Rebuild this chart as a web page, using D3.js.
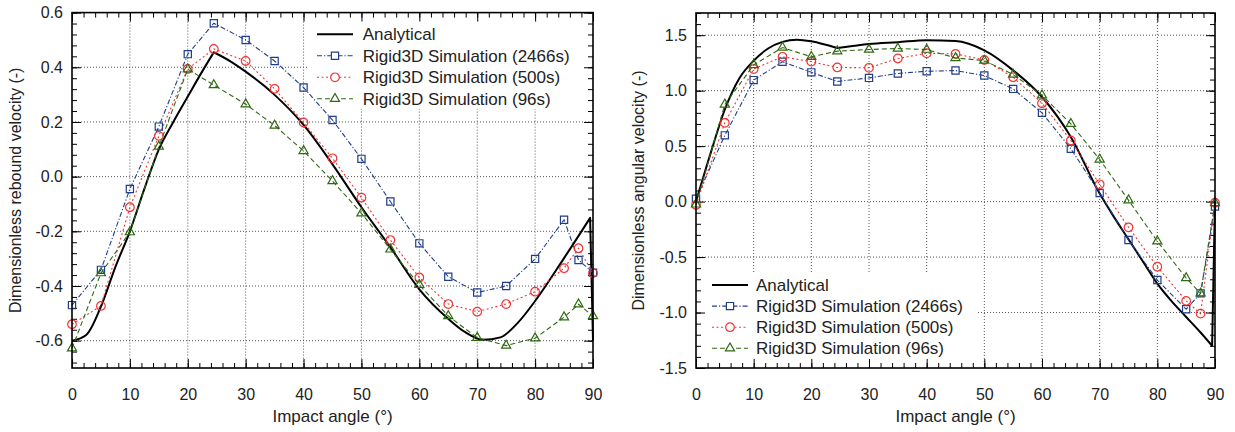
<!doctype html>
<html>
<head>
<meta charset="utf-8"/>
<title>Rebound and angular velocity</title>
<script src="https://d3js.org/d3.v7.min.js"></script>
<style>
body{margin:0;background:#fff;}
svg text{font-family:"Liberation Sans",Arial,sans-serif;font-size:16px;fill:#222;}
svg text.big{font-size:17px;}
</style>
</head>
<body>
<script>
// ---- data ----
var angles = [0,5,10,15,20,24.5,30,35,40,45,50,55,60,65,70,75,80,85,87.5,90];

var rebound2466 = [-0.470,-0.341,-0.045,0.183,0.448,0.561,0.500,0.423,0.326,0.207,0.065,-0.091,-0.244,-0.366,-0.424,-0.400,-0.301,-0.158,-0.305,-0.351];
var rebound500  = [-0.540,-0.473,-0.112,0.149,0.394,0.467,0.423,0.321,0.198,0.067,-0.077,-0.232,-0.369,-0.466,-0.494,-0.466,-0.421,-0.335,-0.262,-0.353];
var rebound96   = [-0.628,-0.353,-0.203,0.110,0.393,0.335,0.265,0.187,0.094,-0.016,-0.134,-0.266,-0.396,-0.510,-0.589,-0.618,-0.591,-0.514,-0.467,-0.510];

var angular2466 = [0.025,0.597,1.095,1.26,1.165,1.083,1.115,1.155,1.175,1.181,1.136,1.016,0.800,0.477,0.077,-0.346,-0.707,-0.970,-0.827,-0.045];
var angular500  = [-0.03,0.71,1.195,1.305,1.262,1.209,1.206,1.29,1.337,1.331,1.277,1.121,0.887,0.551,0.156,-0.232,-0.587,-0.895,-1.010,-0.01];
var angular96   = [-0.025,0.876,1.232,1.389,1.305,1.356,1.371,1.38,1.37,1.295,1.271,1.145,0.959,0.701,0.380,0.013,-0.358,-0.689,-0.827,-0.012];

// analytical curves (kinks at 24.5 and 89.5)
var reboundAnaAngles = [0,2.5,5,7.5,10,12.5,15,17.5,20,22.5,24.5,27.5,30,35,40,45,50,55,60,65,68,71,74,77,80,85,89.5,90];
var reboundAna       = [-0.600,-0.578,-0.475,-0.330,-0.200,-0.045,0.100,0.200,0.293,0.385,0.455,0.420,0.384,0.299,0.189,0.045,-0.112,-0.258,-0.412,-0.520,-0.570,-0.597,-0.588,-0.535,-0.455,-0.298,-0.151,-0.600];
var angularAnaAngles = [0,2.5,5,7.5,10,12.5,15,17.5,20,22.5,24.5,27.5,30,35,40,45,50,55,60,65,70,72.5,75,77.5,80,82.5,85,87.5,89.5,90];
var angularAna       = [0,0.43,0.83,1.11,1.27,1.38,1.44,1.46,1.445,1.414,1.385,1.405,1.42,1.437,1.455,1.447,1.363,1.183,0.943,0.583,0.072,-0.14,-0.34,-0.54,-0.74,-0.90,-1.04,-1.18,-1.30,0];
var kinks = [24.5, 89.5];

var xTicks = [0,10,20,30,40,50,60,70,80,90];
var reboundTicks = [-0.6,-0.4,-0.2,0,0.2,0.4,0.6];
var angularTicks = [-1.5,-1,-0.5,0,0.5,1,1.5];
var legendNames = ["Analytical","Rigid3D Simulation (2466s)","Rigid3D Simulation (500s)","Rigid3D Simulation (96s)"];

var svg = d3.select("body").append("svg")
  .attr("width",1235)
  .attr("height",432);

var styles = [
  {color:"#1f3d8a", dash:"5,2,1.2,2", sym:d3.symbolSquare,   size:52},
  {color:"#f03434", dash:"2,2.5",     sym:d3.symbolCircle,   size:58},
  {color:"#2f6a12", dash:"5,3",       sym:d3.symbolTriangle, size:36}
];

function fmt1(v){ return (Math.abs(v)<1e-9 ? 0 : v).toFixed(1); }

function panel(o)
{
  var g = svg.append("g");
  var x = d3.scaleLinear().domain([0,90]).range([o.left,o.right]);
  var y = d3.scaleLinear().domain(o.yDomain).range([o.bottom,o.top]);

  // grid
  g.selectAll(".gx").data(xTicks.filter(function(v){return v>0 && v<90;}))
    .enter().append("line")
    .attr("x1",function(d){return x(d);}).attr("x2",function(d){return x(d);})
    .attr("y1",o.top).attr("y2",o.bottom)
    .attr("stroke","#555").attr("stroke-width",1).attr("stroke-dasharray","1,2");
  g.selectAll(".gy").data(o.yTicks.filter(function(v){return v>o.yDomain[0]+1e-9 && v<o.yDomain[1]-1e-9;}))
    .enter().append("line")
    .attr("y1",function(d){return y(d);}).attr("y2",function(d){return y(d);})
    .attr("x1",o.left).attr("x2",o.right)
    .attr("stroke","#555").attr("stroke-width",1).attr("stroke-dasharray","1,2");

  // opaque key box
  g.append("rect").attr("x",o.key.x).attr("y",o.key.y).attr("width",o.key.w).attr("height",o.key.h).attr("fill","#fff");

  // axes: major + minor, mirrored
  var xMinor = d3.range(0,46).map(function(i){return i*2;});
  var yMinor = d3.range(0,o.minorN).map(function(i){return +(o.minorStart+i*o.minorStep).toFixed(3);});

  function ax(a, tr){ var s=g.append("g").attr("transform",tr).call(a); s.select(".domain").remove(); return s; }
  ax(d3.axisBottom(x).tickValues(xTicks).tickSize(-9).tickPadding(20.5).tickFormat(d3.format("d")), "translate(0,"+o.bottom+")");
  ax(d3.axisBottom(x).tickValues(xMinor).tickSize(-5).tickFormat(""), "translate(0,"+o.bottom+")");
  ax(d3.axisTop(x).tickValues(xTicks).tickSize(-9).tickFormat(""), "translate(0,"+o.top+")");
  ax(d3.axisTop(x).tickValues(xMinor).tickSize(-5).tickFormat(""), "translate(0,"+o.top+")");
  ax(d3.axisLeft(y).tickValues(o.yTicks).tickSize(-9).tickPadding(9).tickFormat(fmt1), "translate("+o.left+",0)");
  ax(d3.axisLeft(y).tickValues(yMinor).tickSize(-5).tickFormat(""), "translate("+o.left+",0)");
  ax(d3.axisRight(y).tickValues(o.yTicks).tickSize(-9).tickFormat(""), "translate("+o.right+",0)");
  ax(d3.axisRight(y).tickValues(yMinor).tickSize(-5).tickFormat(""), "translate("+o.right+",0)");

  // analytical curve, smooth pieces joined at kinks
  var pts = o.anaX.map(function(d,i){return [d,o.anaY[i]];});
  var line = d3.line().x(function(d){return x(d[0]);}).y(function(d){return y(d[1]);}).curve(d3.curveMonotoneX);
  var path = "", seg = [];
  pts.forEach(function(p,i){
    seg.push(p);
    if (kinks.indexOf(p[0])>=0 || i==pts.length-1) {
      if (seg.length>1) { var s=line(seg); path += (path=="" ? s : "L"+s.slice(1)); }
      seg = [p];
    }
  });
  g.append("path").attr("d",path).attr("fill","none").attr("stroke","#000").attr("stroke-width",2).attr("stroke-linejoin","round");

  // simulations
  o.series.forEach(function(vals,k){
    var st = styles[k];
    var lp = d3.line().x(function(d,i){return x(angles[i]);}).y(function(d){return y(d);});
    g.append("path").attr("d",lp(vals)).attr("fill","none")
      .attr("stroke",st.color).attr("stroke-width",1.1).attr("stroke-dasharray",st.dash);
    g.selectAll(".m"+k).data(vals).enter().append("path")
      .attr("d",d3.symbol().type(st.sym).size(st.size))
      .attr("transform",function(d,i){return "translate("+x(angles[i])+","+y(d)+")";})
      .attr("fill","none").attr("stroke",st.color).attr("stroke-width",1.2);
  });

  // frame
  g.append("rect").attr("x",o.left).attr("y",o.top).attr("width",o.right-o.left).attr("height",o.bottom-o.top)
    .attr("fill","none").attr("stroke","#000").attr("stroke-width",1.6);

  // key
  legendNames.forEach(function(name,i){
    var ly = o.key.row0 + i*o.key.step, lx = o.key.sx;
    if (i==0) {
      g.append("line").attr("x1",lx).attr("x2",lx+36).attr("y1",ly).attr("y2",ly).attr("stroke","#000").attr("stroke-width",2);
    } else {
      var st = styles[i-1];
      g.append("line").attr("x1",lx).attr("x2",lx+36).attr("y1",ly).attr("y2",ly)
        .attr("stroke",st.color).attr("stroke-width",1.1).attr("stroke-dasharray",st.dash);
      g.append("path").attr("d",d3.symbol().type(st.sym).size(st.size)).attr("transform","translate("+(lx+18)+","+ly+")")
        .attr("fill","#fff").attr("stroke",st.color).attr("stroke-width",1.2);
    }
    g.append("text").attr("class","big").attr("x",o.key.tx).attr("y",ly).attr("dy","0.36em").text(name);
  });

  // titles
  g.append("text").attr("class","big").attr("x",(o.left+o.right)/2).attr("y",422).attr("text-anchor","middle").text("Impact angle (°)");
  g.append("text").attr("transform","translate("+o.ytx+","+((o.top+o.bottom)/2)+") rotate(-90)")
    .attr("text-anchor","middle").attr("dy","0.36em").text(o.ytitle);
}

panel({
  left:72, right:593, top:12.6, bottom:368,
  yDomain:[-0.7,0.6], yTicks:reboundTicks,
  minorStart:-0.68, minorStep:0.04, minorN:33,
  anaX:reboundAnaAngles, anaY:reboundAna,
  series:[rebound2466,rebound500,rebound96],
  key:{x:307,y:15,w:284,h:94,row0:34.3,step:21.5,sx:317,tx:362.7},
  ytx:15, ytitle:"Dimensionless rebound velocity (-)"
});

panel({
  left:696, right:1215, top:13, bottom:368,
  yDomain:[-1.5,1.7], yTicks:angularTicks,
  minorStart:-1.5, minorStep:0.1, minorN:33,
  anaX:angularAnaAngles, anaY:angularAna,
  series:[angular2466,angular500,angular96],
  key:{x:698,y:272,w:280,h:94,row0:285,step:21.1,sx:712,tx:756},
  ytx:638, ytitle:"Dimensionless angular velocity (-)"
});
</script>
</body>
</html>
